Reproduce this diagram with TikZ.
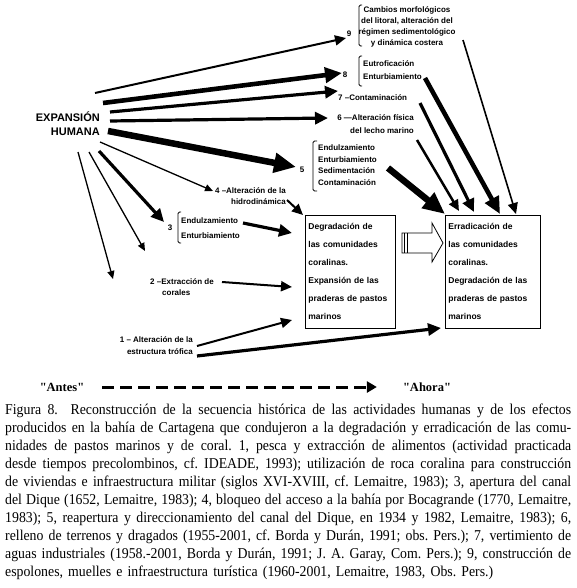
\documentclass[tikz,border=0pt]{standalone}
\usepackage{fontspec}
\setmainfont{Liberation Serif}
\newfontfamily\labfont{Liberation Sans}
\newfontfamily\capfont{Liberation Serif}[Ligatures=TeXOff, FakeStretch=0.92]
\newfontfamily\timefont{Liberation Serif}[Ligatures=TeXOff]
\usetikzlibrary{arrows.meta}

\newcommand{\figline}[1]{\makebox[566pt][s]{#1}}

\tikzset{
  lab/.style={inner sep=0pt, font=\labfont\bfseries\fontsize{8}{11}\selectfont},
  brk/.style={line width=0.8pt, rounded corners=1.5pt},
  box/.style={draw, line width=0.8pt, anchor=north west, inner xsep=3pt, inner ysep=0pt,
    minimum height=113pt, align=left, font=\labfont\bfseries\fontsize{8.5}{18}\selectfont},
  thinarr/.style={line width=1.3pt, -{Triangle[length=8pt,width=7pt]}},
  midarr/.style={line width=2pt, -{Triangle[length=11pt,width=10pt]}},
  boldarr/.style={line width=3.2pt, -{Triangle[length=13pt,width=12pt]}},
  heavyarr/.style={line width=4.6pt, -{Triangle[length=17pt,width=15pt]}},
  hugearr/.style={line width=6.5pt, -{Triangle[length=22pt,width=19pt]}}
}

\begin{document}
\begin{tikzpicture}[x=1pt,y=-1pt]
\useasboundingbox[fill=white] (0,0) rectangle (577,588);

% source and labels
\node[lab, font=\labfont\bfseries\fontsize{11}{14}\selectfont, align=right, anchor=east] (exp) at (100,124) {EXPANSIÓN\\HUMANA};

\node[lab] (n9) at (349,34) {9};
\draw[brk] (362,5) -- (359,5) -- (359,46) -- (362,46);
\node[lab, align=center] (t9) at (407,27) {Cambios morfológicos\\del litoral, alteración del\\régimen sedimentológico\\y dinámica costera};

\node[lab] (n8) at (345,75) {8};
\draw[brk] (362,56) -- (359,56) -- (359,86) -- (362,86);
\node[lab, align=left, anchor=west, font=\labfont\bfseries\fontsize{8}{12.5}\selectfont] (t8) at (363,70) {Eutroficación\\Enturbiamiento};

\node[lab, anchor=west] (t7) at (338,98) {7 –Contaminación};
\node[lab, align=right, anchor=east, font=\labfont\bfseries\fontsize{8}{12.5}\selectfont] (t6) at (414,124) {6 —Alteración física\\del lecho marino};

\node[lab] (n5) at (302,170) {5};
\draw[brk] (317,141) -- (313,141) -- (313,191) -- (317,191);
\node[lab, align=left, anchor=west, font=\labfont\bfseries\fontsize{8}{11.7}\selectfont] (t5) at (318,165) {Endulzamiento\\Enturbiamiento\\Sedimentación\\Contaminación};

\node[lab, align=right, anchor=east] (t4) at (286,196) {4 –Alteración de la\\hidrodinámica};

\node[lab] (n3) at (170,228) {3};
\draw[brk] (181,212) -- (178,212) -- (178,243) -- (181,243);
\node[lab, align=left, anchor=west, font=\labfont\bfseries\fontsize{8}{14.5}\selectfont] (t3) at (181,228) {Endulzamiento\\Enturbiamiento};

\node[lab, align=left, anchor=west, font=\labfont\bfseries\fontsize{8}{10.5}\selectfont] (t2) at (150,287) {2 –Extracción de\\\hspace*{1.5em}corales};
\node[lab, align=right, anchor=east, font=\labfont\bfseries\fontsize{8}{12}\selectfont] (t1) at (193,346) {1 – Alteración de la\\estructura trófica};

% the two states
\node[box, minimum width=90pt, text width=84pt] (deg) at (305,215) {Degradación de\\las comunidades\\coralinas.\\Expansión de las\\praderas de pastos\\marinos};
\node[box, minimum width=95pt, text width=89pt] (err) at (445,215) {Erradicación de\\las comunidades\\coralinas.\\Degradación de las\\praderas de pastos\\marinos};

% hollow arrow between boxes
\draw[line width=0.8pt] (402,233) -- (432,233) -- (432,223) -- (443,243) -- (432,262) -- (432,253) -- (402,253) -- cycle;
\draw[line width=0.8pt] (404.5,233) -- (404.5,253);
\draw[line width=0.8pt] (407,233) -- (407,253);

% arrow ends
\coordinate (exp9) at (95,93);   \coordinate (to9) at (346,38);
\coordinate (exp8) at (103,103); \coordinate (to8) at (342,73);
\coordinate (exp7) at (110,112); \coordinate (to7) at (338,91);
\coordinate (exp6) at (110,121); \coordinate (to6) at (328,118);
\coordinate (exp5) at (108,131); \coordinate (to5) at (296,167);
\coordinate (exp4) at (100,142); \coordinate (to4) at (213,191);
\coordinate (exp3) at (99,151);  \coordinate (to3) at (164,222);
\coordinate (exp2) at (89,152);  \coordinate (to2) at (145,251);
\coordinate (exp1) at (78,152);  \coordinate (to1) at (113,279);

\coordinate (from4) at (287,200); \coordinate (deg4) at (303,215);
\coordinate (from3) at (243,223); \coordinate (deg3) at (292,233);
\coordinate (from2) at (222,282); \coordinate (deg2) at (292,287);
\coordinate (from1) at (197,346); \coordinate (deg1) at (292,320);
\coordinate (from1b) at (197,356); \coordinate (err1) at (441,328);

\coordinate (from9) at (463,40);  \coordinate (err9) at (516,214);
\coordinate (from8) at (425,78);  \coordinate (err8) at (500,214);
\coordinate (from7) at (420,103); \coordinate (err7) at (474,212);
\coordinate (from6) at (417,140); \coordinate (err6) at (459,211);
\coordinate (from5) at (388,168); \coordinate (err5) at (445,214);

% expansion arrows
\draw[midarr] (exp9) -- (to9);
\draw[heavyarr] (exp8) -- (to8);
\draw[boldarr] (exp7) -- (to7);
\draw[boldarr] (exp6) -- (to6);
\draw[hugearr] (exp5) -- (to5);
\draw[thinarr] (exp4) -- (to4);
\draw[boldarr] (exp3) -- (to3);
\draw[thinarr] (exp2) -- (to2);
\draw[thinarr] (exp1) -- (to1);

% into the first box
\draw[midarr] (from4) -- (deg4);
\draw[boldarr] (from3) -- (deg3);
\draw[midarr] (from2) -- (deg2);
\draw[midarr] (from1) -- (deg1);
\draw[boldarr] (from1b) -- (err1);

% into the second box
\draw[midarr, line width=1.6pt] (from9) -- (err9);
\draw[heavyarr] (from8) -- (err8);
\draw[boldarr] (from7) -- (err7);
\draw[midarr, line width=2.5pt] (from6) -- (err6);
\draw[hugearr] (from5) -- (err5);

% time line
\node[inner sep=0pt, font=\timefont\bfseries\fontsize{12.5}{14}\selectfont] (antes) at (62,387) {"Antes"};
\node[inner sep=0pt, font=\timefont\bfseries\fontsize{12.5}{14}\selectfont] (ahora) at (427,387) {"Ahora"};
\draw[line width=3pt, dash pattern=on 12pt off 6pt, -{Triangle[length=10pt,width=11pt]}] ([xshift=18pt]antes.east) -- ([xshift=-26pt]ahora.west);

% caption
\node[anchor=north west, inner sep=0pt, align=left, font=\capfont\fontsize{15}{18}\selectfont\frenchspacing] (cap) at (5,404) {%
\figline{Figura 8.\ \ Reconstrucción de la secuencia histórica de las actividades humanas y de los efectos}\\
\figline{producidos en la bahía de Cartagena que condujeron a la degradación y erradicación de las comu-}\\
\figline{nidades de pastos marinos y de coral. 1, pesca y extracción de alimentos (actividad practicada}\\
\figline{desde tiempos precolombinos, cf. IDEADE, 1993); utilización de roca coralina para construcción}\\
\figline{de viviendas e infraestructura militar (siglos XVI-XVIII, cf. Lemaitre, 1983); 3, apertura del canal}\\
\figline{del Dique (1652, Lemaitre, 1983); 4, bloqueo del acceso a la bahía por Bocagrande (1770, Lemaitre,}\\
\figline{1983); 5, reapertura y direccionamiento del canal del Dique, en 1934 y 1982, Lemaitre, 1983); 6,}\\
\figline{relleno de terrenos y dragados (1955-2001, cf. Borda y Durán, 1991; obs. Pers.); 7, vertimiento de}\\
\figline{aguas industriales (1958.-2001, Borda y Durán, 1991; J. A. Garay, Com. Pers.); 9, construcción de}\\
\makebox[488pt][s]{espolones, muelles e infraestructura turística (1960-2001, Lemaitre, 1983, Obs. Pers.)}};
\end{tikzpicture}
\end{document}
